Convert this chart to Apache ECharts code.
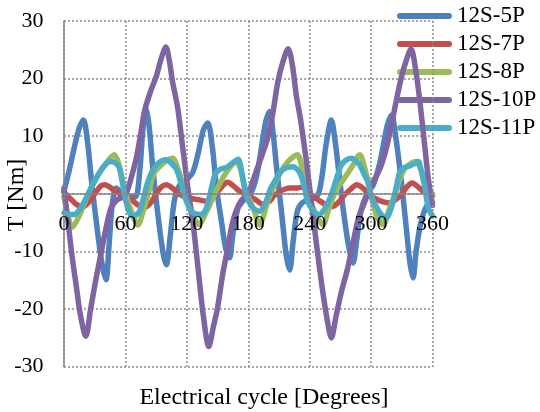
<!DOCTYPE html>
<html>
<head>
<meta charset="utf-8">
<script src="https://cdn.jsdelivr.net/npm/echarts@6/dist/echarts.min.js"></script>
<style>
html,body{margin:0;padding:0;background:#fff;}
#chart{width:540px;height:412px;}
</style>
</head>
<body>
<div id="chart"></div>
<script>
// ---- data ----
const seriesNames = ['12S-5P', '12S-7P', '12S-8P', '12S-10P', '12S-11P'];
const xTicks = [0, 60, 120, 180, 240, 300, 360];
const yTicks = [-30, -20, -10, 0, 10, 20, 30];

const deg5P = [0,5,10,15,19,23,27,32,37,41,44,47,51,55,60,65,70,74,77,80,83,87,92,97,100,104,108,113,120,126,131,136,140.5,145,149,154,158,161.7,165,170,176,183,188,192,197,201,204,208,213,217,220.5,224,228,233,240,248,252,256,261.2,265,268,273,278,282.4,286,290,296,302,308,312,316,320,324,329.7,335,338,341,344,348,354,360];
const t5P = [0.5,4,8,11.5,12.8,9,2,-5.5,-12,-14.9,-9,-2,1,0.5,0,-0.5,-0.5,4,11,14.9,12,4,-4,-10.5,-12.3,-7,-1,1.5,2.5,3.8,7,11,12.3,8,1,-5,-9.5,-11.1,-7,-2.5,-1,0.3,3,7,12.5,14.3,11,4,-4,-10.5,-13.2,-8,-3,-1.5,-1,-0.2,3,8.5,12.8,9,4.5,-3,-9,-12,-8,-3,0,1.5,5,8.5,12,13.7,10,2,-7,-12,-14.6,-10,-5.5,-2.2,-1.5];

const deg7P = [0,6,12,18,24,30,36,40,46,52,59,66,72,79,85,90,95,100,106,112,118,124,131,140,146,152,160,166,172,180,187,194,200,206,213,220,228,234,241,248,255,262,268,274,280,286,292,300,306,312,318,324,330,335,340,346,352,360];
const t7P = [0.3,-0.8,-1.8,-2.3,-1.5,0,1.4,1.6,1,0.2,-0.3,-1,-1.9,-2.3,-1.5,0,1.2,1.6,1,0,-0.5,-0.8,-1,-1.3,-0.5,0.8,2,1.3,0.4,-0.3,-1,-1.8,-1.4,-0.2,0.6,1,1,1.2,-0.2,-1,-1.8,-2.2,-1.5,-0.2,0.8,1.6,1,-0.4,-1,-1.4,-1.6,-1,0,1.2,1.9,1.2,0.3,-0.3];

const deg8P = [0,4,8,13,18,23,29,36,42,49,53,57,62,67,72,78,83,88,95,100,106,111,116,121,126,132,138,144,150,157,163,168,172,176,180,186,191,195,199,205,212,220,228,232,236,240,246,253,258,263,268,275,281,289,293,297,301,305,312,317,323,328,333,339,344,349,353,356,360];
const t8P = [-0.5,-4,-5.8,-4.5,-2.5,-0.3,2,4,5.5,6.8,5.5,2.5,-1,-3.6,-5.4,-2.6,0.5,3.6,5,5.8,6.2,4.5,1.5,-1.5,-4,-5.3,-3.5,-1.3,1,3.3,4.8,5.6,4.5,1.5,-0.5,-3,-5.4,-3.8,-1.3,1.3,3.9,5.8,6.8,5,1.5,-1,-3.5,-5.4,-3,-0.5,1.2,3,4.6,6.8,5,2.1,-1,-3.6,-5.4,-3,-0.2,2.5,4.4,5.3,5.6,4,1.5,-0.5,0];

const deg10P = [0,4,8,12,16,21.3,26,31,36,41,46,52,57,61,66,71,75,79,85,90,95,99.5,103,106,111,116,121,126,131,136,141.5,146,150,155,160,164,168,173,179,184,189,194,199,204,209,214,219,223,227,231,235,238,243,248,252,256.3,261.2,266,271,277,282,288,294,300,305,310,315,320,325,330,335,339,344,348,352,356,360];
const t10P = [1,-5,-11,-16,-21,-24.7,-20,-15,-10.5,-6,-2.4,-1,-0.6,0.2,3,6.5,10.5,14.6,18,20.3,23.5,25.5,23,19.5,15,8,1,-5,-13,-21,-26.5,-23,-19.8,-14,-9.4,-5.5,-3,-1.2,-0.2,2,4.5,7,9.7,14,19.5,23,25.2,22.5,17,13,8,4,-3.5,-10.6,-16,-21,-25,-21,-17,-13,-8.8,-4,-1.3,1.5,3,5,8,12,16.5,20.5,23.5,25.2,21,15.5,9,2.5,-2];

const deg11P = [0,5,10,15,20,25,30,35,40,45,50,54,57,60.5,64,67,71,74,78,82,87,92,99,105,110,114,118,122,127,134,139,144,148,153,159,165,170,174,177,181,185,191,197,202,207,212,218,224,229,232,235,238,243,249,255,261,266,271,276,281,286,289,293,297,300,305,310,315,318,321.6,325,328,332,337,342,346,349,352.6,356,360];
const t11P = [-3.3,-3.6,-3.6,-2.8,-1.3,0.5,2.2,3.8,5,5.6,5.4,4.5,2,-1.3,-3.3,-3.9,-3.6,-3,-0.5,2.1,4.2,5.3,5.9,5.3,4.2,2,-0.5,-2.3,-3.4,-3.6,-2.5,1,3.5,4.3,4.6,5.4,6,3.5,0.5,-1.5,-2.5,-3,-1.5,1,2.5,3.9,4.6,4.7,4,3,1,-1.3,-2.8,-3.6,-2.5,-0.2,2.5,5,5.9,6.2,5.6,5,3.5,2,-0.2,-2.2,-3.6,-4.2,-3.3,-1.3,1.5,3.8,4.5,4.8,5.2,5.6,4,1,-2.5,-3.8];

const seriesDeg = [deg5P, deg7P, deg8P, deg10P, deg11P];
const seriesT = [t5P, t7P, t8P, t10P, t11P];
const colors = ['#4F81BD', '#C0504D', '#9BBB59', '#8064A2', '#4BACC6'];

// ---- chart ----
const FONT = '"Liberation Serif", "Times New Roman", serif';
const chart = echarts.init(document.getElementById('chart'), null, {renderer: 'canvas'});

const series = seriesNames.map((name, i) => ({
  name: name,
  type: 'line',
  data: seriesDeg[i].map((d, k) => [d, seriesT[i][k]]),
  smooth: 0.3,
  symbol: 'none',
  clip: false,
  color: colors[i],
  lineStyle: {width: 5.5, color: colors[i], cap: 'round', join: 'round'},
  z: 2 + i
}));

const capsule = 'path://M3,0 L52,0 A3,3 0 0 1 52,6 L3,6 A3,3 0 0 1 3,0 Z';

const option = {
  animation: false,
  backgroundColor: '#fff',
  grid: {left: 64, right: 107.5, top: 21, bottom: 45.3, containLabel: false},
  legend: {
    orient: 'vertical',
    left: 397,
    top: 4,
    padding: 0,
    itemWidth: 55,
    itemHeight: 6,
    itemGap: 4,
    icon: capsule,
    data: seriesNames,
    textStyle: {fontFamily: FONT, fontSize: 23, color: '#000', lineHeight: 24}
  },
  xAxis: {
    type: 'value',
    min: xTicks[0],
    max: xTicks[xTicks.length - 1],
    interval: 60,
    offset: 0,
    z: 10,
    axisLine: {show: true, onZero: false, lineStyle: {color: '#868686', width: 1.5}},
    axisTick: {show: false},
    axisLabel: {
      margin: 19,
      fontFamily: FONT, fontSize: 22, color: '#000',
      formatter: v => xTicks.includes(v) ? String(v) : ''
    },
    splitLine: {show: true, lineStyle: {color: '#8c8c8c', type: [2, 2], width: 1.5}}
  },
  yAxis: {
    type: 'value',
    min: yTicks[0],
    max: yTicks[yTicks.length - 1],
    interval: 10,
    axisLine: {show: true, lineStyle: {color: '#868686', width: 1.5}},
    axisTick: {show: false},
    axisLabel: {
      margin: 20.5,
      fontFamily: FONT, fontSize: 22, color: '#000',
      formatter: v => yTicks.includes(v) ? String(v) : ''
    },
    splitLine: {show: true, lineStyle: {color: '#8c8c8c', type: [2, 2], width: 1.5}}
  },
  graphic: [
    {
      type: 'text',
      x: 264, y: 398,
      style: {text: 'Electrical cycle [Degrees]', font: '24px ' + FONT, fill: '#000', align: 'center', verticalAlign: 'middle'}
    },
    {
      type: 'text',
      x: 17, y: 195,
      rotation: Math.PI / 2,
      style: {text: 'T [Nm]', font: '24px ' + FONT, fill: '#000', align: 'center', verticalAlign: 'middle'}
    }
  ],
  series: series
};
chart.setOption(option);

// place the x axis (line + labels) on the y = 0 level, as in the reference
const zeroPx = chart.convertToPixel({yAxisIndex: 0}, 0);
const bottomPx = chart.convertToPixel({yAxisIndex: 0}, yTicks[0]);
chart.setOption({xAxis: {offset: -(bottomPx - zeroPx)}});
</script>
</body>
</html>
